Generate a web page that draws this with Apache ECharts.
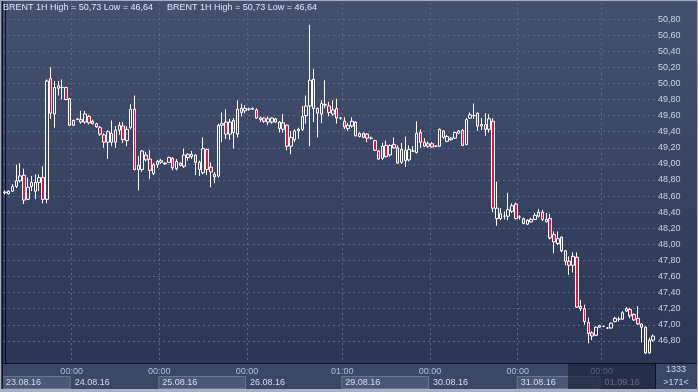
<!DOCTYPE html>
<html><head><meta charset="utf-8">
<script src="https://cdn.jsdelivr.net/npm/echarts@6/dist/echarts.min.js"></script>
<style>html,body{margin:0;padding:0;background:#3a4765;}#c{width:698px;height:392px;}</style>
</head><body><div id="c"></div>
<script>
const opens = [
48.64,48.63,48.66,48.72,48.79,48.86,48.56,48.77,48.66,48.77,
48.83,48.56,50.06,49.62,49.94,49.95,49.95,49.81,49.48,49.55,
49.55,49.52,49.59,49.50,49.50,49.45,49.36,49.27,49.38,49.27,
49.42,49.47,49.29,49.45,49.68,48.93,48.93,49.11,49.06,48.88,
48.99,49.04,49.00,49.02,49.07,48.94,49.01,48.97,49.12,49.09,
49.11,48.93,48.89,49.18,48.96,48.87,48.85,49.48,49.52,49.37,
49.54,49.37,49.69,49.66,49.68,49.68,49.67,49.57,49.57,49.52,
49.52,49.56,49.52,49.43,49.48,49.22,49.30,49.41,49.43,49.60,
49.72,50.05,49.69,49.62,49.73,49.72,49.62,49.69,49.57,49.53,
49.44,49.47,49.52,49.38,49.38,49.37,49.32,49.29,49.16,49.07,
49.23,49.11,49.24,49.20,49.02,49.17,49.05,49.16,49.14,49.39,
49.27,49.22,49.25,49.22,49.22,49.41,49.28,49.30,49.32,49.38,
49.42,49.24,49.57,49.60,49.63,49.47,49.49,49.43,49.53,48.32,
48.32,48.35,48.35,48.41,48.50,48.34,48.32,48.25,48.28,48.31,
48.35,48.40,48.28,48.32,48.12,48.01,48.09,47.92,47.79,47.74,
47.84,47.23,47.20,47.03,46.90,46.87,46.97,46.98,46.96,46.96,
47.04,47.07,47.07,47.17,47.19,47.13,47.08,47.01,46.97,46.65,46.81];
const closes = [
48.65,48.66,48.72,48.79,48.85,48.55,48.71,48.72,48.77,48.83,
48.56,50.03,49.63,49.95,49.97,49.95,49.80,49.48,49.54,49.56,
49.52,49.62,49.51,49.53,49.46,49.37,49.27,49.40,49.27,49.42,
49.48,49.30,49.43,49.68,48.93,48.98,49.16,49.05,48.92,48.99,
49.03,49.02,49.01,49.08,48.95,49.03,48.98,49.11,49.08,49.12,
49.02,49.02,49.19,48.93,48.90,48.84,49.48,49.50,49.37,49.52,
49.39,49.68,49.64,49.69,49.68,49.69,49.57,49.55,49.53,49.56,
49.57,49.52,49.44,49.51,49.22,49.33,49.41,49.43,49.59,49.72,
50.04,49.69,49.63,49.75,49.74,49.64,49.67,49.57,49.57,49.46,
49.48,49.53,49.35,49.34,49.33,49.32,49.32,49.17,49.06,49.22,
49.09,49.23,49.20,49.01,49.18,49.04,49.18,49.16,49.38,49.27,
49.22,49.25,49.21,49.22,49.43,49.33,49.34,49.32,49.39,49.41,
49.23,49.55,49.61,49.60,49.47,49.49,49.43,49.56,48.45,48.45,
48.38,48.35,48.43,48.48,48.32,48.34,48.26,48.30,48.31,48.36,
48.40,48.31,48.31,48.08,48.03,48.07,47.92,47.79,47.74,47.85,
47.22,47.20,47.04,46.89,46.86,46.97,46.99,46.98,46.96,47.02,
47.08,47.07,47.15,47.20,47.11,47.06,47.01,46.97,46.65,46.81,46.86];
const lows = [
48.62,48.62,48.65,48.70,48.77,48.50,48.55,48.66,48.56,48.66,
48.51,48.51,49.56,49.45,49.85,49.80,49.79,49.47,49.47,49.55,
49.50,49.50,49.49,49.49,49.45,49.35,49.20,49.06,49.22,49.20,
49.36,49.26,49.22,49.43,48.92,48.67,48.90,49.03,48.81,48.86,
48.95,49.00,48.99,49.01,48.92,48.92,48.97,48.95,49.04,49.06,
48.86,48.85,48.87,48.86,48.71,48.76,48.83,49.27,49.31,49.30,
49.19,49.33,49.59,49.63,49.66,49.67,49.56,49.52,49.51,49.48,
49.50,49.51,49.39,49.39,49.17,49.12,49.27,49.31,49.41,49.50,
49.22,49.52,49.33,49.51,49.69,49.59,49.60,49.50,49.55,49.43,
49.41,49.45,49.34,49.33,49.32,49.27,49.30,49.16,49.05,49.05,
49.08,49.09,49.19,49.00,49.00,48.96,49.03,49.15,49.13,49.20,
49.21,49.20,49.20,49.21,49.21,49.31,49.27,49.29,49.31,49.37,
49.22,49.23,49.56,49.56,49.41,49.42,49.35,49.39,48.40,48.23,
48.30,48.31,48.30,48.39,48.31,48.31,48.25,48.24,48.27,48.30,
48.33,48.29,48.27,48.06,47.89,47.99,47.90,47.74,47.62,47.65,
47.21,47.17,47.00,46.77,46.81,46.86,46.96,46.97,46.95,46.95,
47.03,47.04,47.06,47.16,47.08,47.05,47.00,46.78,46.64,46.64,46.79];
const highs = [
48.67,48.67,48.75,48.99,49.01,48.94,48.83,48.85,48.87,48.87,
48.97,50.05,50.20,50.03,50.03,50.05,49.96,49.82,49.55,49.57,
49.66,49.66,49.61,49.55,49.51,49.47,49.38,49.42,49.54,49.47,
49.52,49.52,49.47,49.74,49.85,49.10,49.17,49.15,49.17,49.01,
49.05,49.06,49.02,49.09,49.08,49.06,49.02,49.19,49.13,49.16,
49.12,49.04,49.33,49.19,49.02,48.90,49.50,49.64,49.68,49.56,
49.57,49.79,49.75,49.73,49.70,49.70,49.69,49.59,49.58,49.59,
49.58,49.57,49.53,49.62,49.49,49.41,49.43,49.45,49.72,49.85,
50.73,50.18,49.70,49.79,50.04,49.77,49.79,49.81,49.58,49.58,
49.51,49.58,49.53,49.39,49.39,49.38,49.34,49.30,49.17,49.26,
49.29,49.24,49.33,49.23,49.26,49.34,49.23,49.22,49.53,49.43,
49.32,49.28,49.27,49.23,49.44,49.42,49.36,49.33,49.40,49.42,
49.43,49.57,49.64,49.75,49.64,49.57,49.63,49.62,49.57,48.78,
48.45,48.41,48.64,48.51,48.52,48.36,48.33,48.31,48.33,48.39,
48.44,48.43,48.39,48.38,48.16,48.16,48.10,47.93,47.85,47.90,
47.90,47.31,47.25,47.09,46.92,46.98,47.00,46.99,46.97,47.03,
47.10,47.10,47.17,47.22,47.21,47.14,47.23,47.02,46.98,46.84,46.88];

const yTicks = [46.8,47.0,47.2,47.4,47.6,47.8,48.0,48.2,48.4,48.6,48.8,49.0,49.2,49.4,49.6,49.8,50.0,50.2,50.4,50.6,50.8];
const dayStarts = [-0.5,17.5,40.5,63.5,88.5,111.5,134.5,156.5];
const dateLabels = ['23.08.16','24.08.16','25.08.16','26.08.16','29.08.16','30.08.16','31.08.16','01.09.16'];
const timeMarks = [17.5,40.5,63.5,88.5,111.5,134.5,156.5];
const timeLabels = ['00:00','00:00','00:00','01:00','00:00','00:00','00:00'];
const titleText = 'BRENT 1H High = 50,73 Low = 46,64';
const counterText = '1333';
const barsText = '>171<';

const N = opens.length;
const cats = opens.map((_, i) => String(i));
const candles = opens.map((o, i) => [o, closes[i], lows[i], highs[i]]);
const lastPrice = closes[N - 1];
const fmt = v => v.toFixed(2).replace('.', ',');

const W = 698, H = 392, GL = 3, GR = 43, GT = 3, GB = 29;
const plotW = W - GL - GR;
const band = plotW / N;
const FONT = 'Liberation Sans, Arial, sans-serif';

const rich = {};
dayStarts.forEach((s, i) => {
  const e = i + 1 < dayStarts.length ? dayStarts[i + 1] : N - 0.5;
  const boxed = i % 2 === 0 && i < 7;
  rich['d' + i] = {
    width: Math.max(10, (e - s) * band - 5),
    height: 11, lineHeight: 11,
    padding: [0, 0, 0, 3],
    fontSize: 9, fontFamily: FONT, color: '#d6deec',
    backgroundColor: boxed ? '#4a5877' : 'transparent',
    borderColor: boxed ? '#66748f' : 'transparent',
    borderWidth: 1, verticalAlign: 'middle'
  };
});

const chart = echarts.init(document.getElementById('c'), null, {renderer: 'canvas'});
const gridLine = {color: '#58678c', width: 1, type: [2, 3]};
chart.setOption({
  animation: false,
  backgroundColor: {type: 'linear', x: 0, y: 0, x2: 0, y2: 1, colorStops: [
    {offset: 0, color: '#43516f'},
    {offset: 363 / 392, color: '#2b3654'},
    {offset: 363.5 / 392, color: '#3a4765'},
    {offset: 1, color: '#3a4765'}]},
  title: [
    {text: titleText, left: 3, top: 3, padding: 0, textStyle: {fontSize: 9, fontWeight: 'normal', color: '#dfe6f2', fontFamily: FONT}},
    {text: titleText, left: 167, top: 3, padding: 0, textStyle: {fontSize: 9, fontWeight: 'normal', color: '#dfe6f2', fontFamily: FONT}}
  ],
  grid: {left: GL, right: GR, top: GT, bottom: GB, containLabel: false, outerBoundsMode: 'none'},
  xAxis: [
    {type: 'category', data: cats, boundaryGap: true, position: 'bottom',
     axisLine: {show: true, lineStyle: {color: '#0c1220', width: 1}},
     axisTick: {show: false}, axisLabel: {show: false}, splitLine: {show: false}},
    {type: 'value', min: -0.5, max: N - 0.5, position: 'bottom',
     axisLine: {show: false}, axisTick: {show: false, customValues: timeMarks},
     axisLabel: {customValues: timeMarks, margin: 4, fontSize: 9, fontFamily: FONT, color: '#a9c0e2',
       formatter: v => timeLabels[timeMarks.indexOf(v)] || ''},
     splitLine: {show: true, lineStyle: gridLine}},
    {type: 'value', min: -0.5, max: N - 0.5, position: 'bottom', offset: 14,
     axisLine: {show: false}, axisTick: {show: false, customValues: dayStarts},
     axisLabel: {customValues: dayStarts, margin: 0, align: 'left', rich: rich,
       formatter: v => { const i = dayStarts.indexOf(v); return i < 0 ? '' : '{d' + i + '|' + dateLabels[i] + '}'; }},
     splitLine: {show: false}}
  ],
  yAxis: {type: 'value', position: 'right', min: 46.525, max: 51.0,
    axisLine: {show: true, lineStyle: {color: '#0c1220', width: 1}},
    axisTick: {show: false, customValues: yTicks},
    axisLabel: {customValues: yTicks, margin: 3, fontSize: 9, fontFamily: FONT, color: '#c8d4ea', formatter: v => fmt(v)},
    splitLine: {show: true, lineStyle: gridLine}},
  series: [{
    type: 'candlestick', xAxisIndex: 0, yAxisIndex: 0, data: candles, barWidth: 3,
    itemStyle: {color: 'rgba(0,0,0,0)', color0: '#e5143c', borderColor: '#ffffff', borderColor0: '#ffffff', borderColorDoji: '#ffffff', borderWidth: 1},
    markLine: {silent: true, symbol: ['none', 'none'], animation: false,
      data: [{yAxis: lastPrice}], lineStyle: {opacity: 0},
      label: {show: true, position: 'end', distance: 4, formatter: fmt(lastPrice), fontSize: 9, fontFamily: FONT,
        color: '#151d2e', backgroundColor: '#c6cad3', borderColor: '#8f97a8', borderWidth: 1, padding: [2, 13, 1, 2]}}
  }],
  graphic: [
    {type: 'rect', z: 100, silent: true, shape: {x: 568, y: 364, width: 87, height: 25}, style: {fill: 'rgba(22,30,52,0.6)'}},
    {type: 'line', z: 100, silent: true, shape: {x1: 655, y1: 363.5, x2: 698, y2: 363.5}, style: {stroke: '#0c1220', lineWidth: 1}},
    {type: 'line', z: 100, silent: true, shape: {x1: 655.5, y1: 363, x2: 655.5, y2: 392}, style: {stroke: '#0c1220', lineWidth: 1}},
    {type: 'line', z: 100, silent: true, shape: {x1: 2.5, y1: 1, x2: 2.5, y2: 389}, style: {stroke: '#0c1220', lineWidth: 1}},
    {type: 'rect', z: 100, silent: true, shape: {x: 0, y: 389, width: 698, height: 3}, style: {fill: '#a9b3c4'}},
    {type: 'rect', z: 100, silent: true, shape: {x: 0.5, y: 0.5, width: 697, height: 391}, style: {fill: 'none', stroke: '#a3aec0', lineWidth: 1}},
    {type: 'text', z: 100, silent: true, x: 676, y: 370, style: {text: counterText, fill: '#c8d6ee', font: '9px ' + FONT, textAlign: 'center', textVerticalAlign: 'middle'}},
    {type: 'text', z: 100, silent: true, x: 676, y: 383, style: {text: barsText, fill: '#c8d6ee', font: '9px ' + FONT, textAlign: 'center', textVerticalAlign: 'middle'}}
  ]
});
</script>
</body></html>
